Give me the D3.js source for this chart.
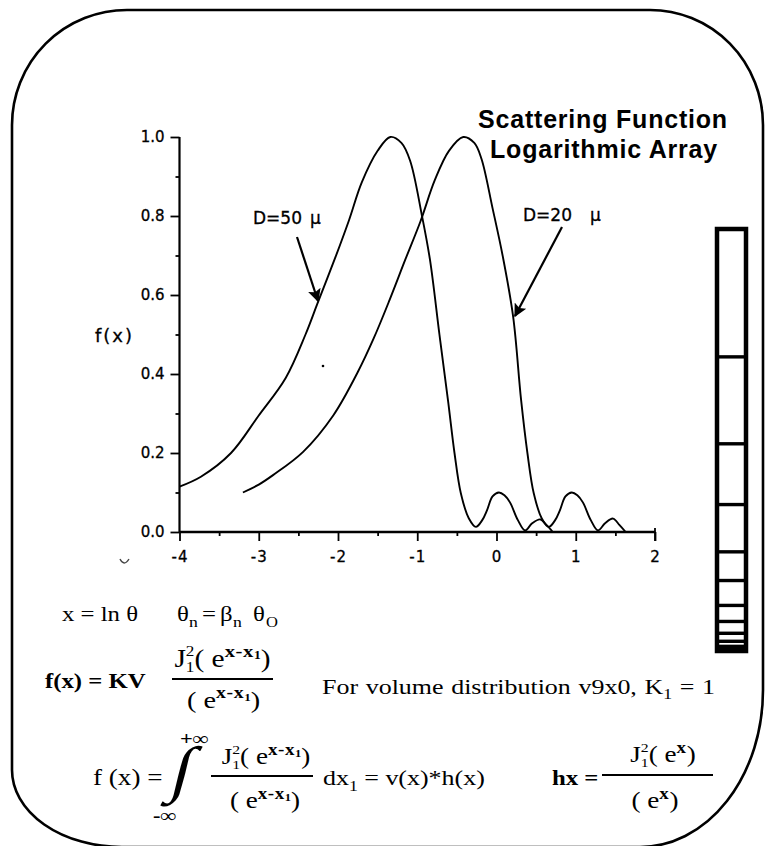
<!DOCTYPE html>
<html>
<head>
<meta charset="utf-8">
<script src="https://cdn.jsdelivr.net/npm/d3@7"></script>
<style>
  html, body { margin: 0; padding: 0; background: #fff; }
  svg { display: block; }
</style>
</head>
<body>
<svg id="chart" width="765" height="846"></svg>
<script>
// ---------------- data ----------------
const xTicks = [-4, -3, -2, -1, 0, 1, 2];
const xTickLabels = ["-4", "-3", "-2", "-1", "0", "1", "2"];
const xMinorTicks = [-3.5, -2.5, -1.5, -0.5, 0.5, 1.5];
const yTicks = [0, 0.2, 0.4, 0.6, 0.8, 1.0];
const yTickLabels = ["0.0", "0.2", "0.4", "0.6", "0.8", "1.0"];
const yMinorTicks = [0.1, 0.3, 0.5, 0.7, 0.9];

// D = 50 micron curve
const d50X = [-4.0, -3.73, -3.35, -3.0, -2.66, -2.41, -2.26, -2.03, -1.86, -1.70, -1.50, -1.34, -1.20, -1.09, -0.94, -0.84, -0.72, -0.61, -0.53, -0.45, -0.35, -0.26, -0.18, -0.12, -0.05, 0.03, 0.10, 0.17, 0.27, 0.36, 0.45, 0.55, 0.63, 0.71];
const d50Y = [0.115, 0.14, 0.20, 0.295, 0.39, 0.50, 0.578, 0.697, 0.79, 0.885, 0.965, 1.0, 0.985, 0.94, 0.80, 0.69, 0.50, 0.33, 0.20, 0.098, 0.035, 0.013, 0.03, 0.055, 0.09, 0.10, 0.093, 0.075, 0.03, 0.004, 0.022, 0.032, 0.018, 0.0];

// D = 20 micron curve
const d20X = [-3.2, -3.0, -2.82, -2.44, -2.06, -1.75, -1.55, -1.35, -1.15, -0.96, -0.78, -0.60, -0.42, -0.28, -0.19, -0.05, 0.08, 0.21, 0.31, 0.39, 0.47, 0.57, 0.66, 0.74, 0.80, 0.87, 0.95, 1.02, 1.09, 1.19, 1.28, 1.37, 1.47, 1.55, 1.63];
const d20Y = [0.10, 0.12, 0.144, 0.203, 0.295, 0.405, 0.49, 0.587, 0.69, 0.786, 0.89, 0.965, 1.0, 0.985, 0.945, 0.82, 0.697, 0.545, 0.335, 0.20, 0.098, 0.035, 0.013, 0.03, 0.055, 0.09, 0.10, 0.093, 0.075, 0.03, 0.004, 0.022, 0.034, 0.018, 0.0];

const curveLabels = ["D=50", "D=20"];
const titleLines = ["Scattering Function", "Logarithmic Array"];

// ring boundaries of the logarithmic detector array (fraction of array length from top)
const ringEdges = [0.303, 0.509, 0.653, 0.765, 0.833, 0.892, 0.930, 0.958, 0.977];

// ---------------- drawing ----------------
const svg = d3.select("#chart");
const ink = "#000";

// rounded frame
svg.append("path")
  .attr("d", "M127,10 L650,10 A113,115 0 0 1 763,125 L763,690 A123,157 0 0 1 640,847 L122,847 A110,77 0 0 1 12,770 L12,125 A115,115 0 0 1 127,10 Z")
  .attr("fill", "none").attr("stroke", ink).attr("stroke-width", 2.6);

const x = d3.scaleLinear().domain([-4, 2]).range([179.5, 655]);
const y = d3.scaleLinear().domain([0, 1]).range([532, 137]);

const tickFont = "'DejaVu Sans', Verdana, sans-serif";

// y axis
const gy = svg.append("g").attr("transform", `translate(${x(-4)},0)`);
gy.call(d3.axisLeft(y).tickValues(yTicks)
  .tickFormat((d, i) => yTickLabels[i]).tickSize(9).tickPadding(6).tickSizeOuter(0));
gy.call(g => g.select(".domain").remove());
gy.selectAll("line").attr("stroke-width", 1.8);
gy.selectAll("text").attr("font-family", tickFont).attr("font-size", 15).attr("fill", ink)
  .attr("stroke", ink).attr("stroke-width", 0.3);
const gyMinor = svg.append("g").attr("transform", `translate(${x(-4)},0)`);
gyMinor.call(d3.axisLeft(y).tickValues(yMinorTicks).tickFormat("").tickSize(4).tickSizeOuter(0));
gyMinor.call(g => g.select(".domain").remove());
gyMinor.selectAll("line").attr("stroke-width", 1.8);
svg.append("line").attr("x1", x(-4)).attr("x2", x(-4)).attr("y1", y(1)).attr("y2", y(0))
  .attr("stroke", ink).attr("stroke-width", 2.2);

// x axis
const gx = svg.append("g").attr("transform", `translate(0,${y(0)})`);
gx.call(d3.axisBottom(x).tickValues(xTicks)
  .tickFormat((d, i) => xTickLabels[i]).tickSize(9).tickPadding(10).tickSizeOuter(0));
gx.call(g => g.select(".domain").remove());
gx.selectAll("line").attr("stroke-width", 1.8);
gx.selectAll("text").attr("font-family", tickFont).attr("font-size", 15).attr("fill", ink)
  .attr("letter-spacing", 1).attr("stroke", ink).attr("stroke-width", 0.3);
const gxMinor = svg.append("g").attr("transform", `translate(0,${y(0)})`);
gxMinor.call(d3.axisBottom(x).tickValues(xMinorTicks).tickFormat("").tickSize(4).tickSizeOuter(0));
gxMinor.call(g => g.select(".domain").remove());
gxMinor.selectAll("line").attr("stroke-width", 1.8);
svg.append("line").attr("x1", x(-4)).attr("x2", x(2)).attr("y1", y(0)).attr("y2", y(0))
  .attr("stroke", ink).attr("stroke-width", 2.4);
svg.append("line").attr("x1", x(2)).attr("x2", x(2)).attr("y1", y(0) - 4).attr("y2", y(0) + 9)
  .attr("stroke", ink).attr("stroke-width", 1.8);

// y label
svg.append("text").attr("x", 95).attr("y", 342).text("f(x)")
  .attr("font-family", tickFont).attr("font-size", 18).attr("letter-spacing", 2).attr("fill", ink)
  .attr("stroke", ink).attr("stroke-width", 0.3);

// curves
const line = d3.line().x(d => x(d[0])).y(d => y(d[1])).curve(d3.curveCatmullRom.alpha(0.5));
[[d50X, d50Y], [d20X, d20Y]].forEach(([xs, ys]) => {
  svg.append("path").datum(xs.map((v, i) => [v, ys[i]]))
    .attr("d", line).attr("fill", "none").attr("stroke", ink).attr("stroke-width", 1.9);
});

// curve labels with arrows
const defs = svg.append("defs");
defs.append("marker").attr("id", "ah").attr("viewBox", "0 0 10 10")
  .attr("refX", 9).attr("refY", 5).attr("markerWidth", 16).attr("markerHeight", 13)
  .attr("markerUnits", "userSpaceOnUse").attr("orient", "auto")
  .append("path").attr("d", "M0,0 L10,5 L0,10 L2,5 Z").attr("fill", ink);

function curveLabel(lx, ly, txt, mux, a) {
  svg.append("text").attr("x", lx).attr("y", ly).text(txt)
    .attr("font-family", tickFont).attr("font-size", 17).attr("fill", ink)
    .attr("stroke", ink).attr("stroke-width", 0.3);
  svg.append("text").attr("x", mux).attr("y", ly).text("μ")
    .attr("font-family", tickFont).attr("font-size", 17).attr("fill", ink)
    .attr("stroke", ink).attr("stroke-width", 0.3);
  svg.append("line").attr("x1", a[0]).attr("y1", a[1]).attr("x2", a[2]).attr("y2", a[3])
    .attr("stroke", ink).attr("stroke-width", 2.2).attr("marker-end", "url(#ah)");
}
curveLabel(253, 224, curveLabels[0], 310, [297, 237, 318, 301]);
curveLabel(523, 221, curveLabels[1], 590, [562, 227, 515, 316]);

// scan specks
svg.append("circle").attr("cx", 323).attr("cy", 366).attr("r", 1.3).attr("fill", ink);
svg.append("path").attr("d", "M120,559 Q124,567 129,559").attr("fill", "none")
  .attr("stroke", "#444").attr("stroke-width", 1.4);

// title
const titleFont = "'Liberation Sans', Arial, Helvetica, sans-serif";
svg.append("text").attr("x", 478).attr("y", 128).text(titleLines[0])
  .attr("font-family", titleFont).attr("font-weight", "bold").attr("font-size", 25)
  .attr("letter-spacing", 0.8).attr("fill", ink);
svg.append("text").attr("x", 490).attr("y", 158).text(titleLines[1])
  .attr("font-family", titleFont).attr("font-weight", "bold").attr("font-size", 25)
  .attr("letter-spacing", 0.8).attr("fill", ink);

// logarithmic ring array bar
const ring = d3.scaleLinear().domain([0, 1]).range([229, 651]);
const barX0 = 717, barX1 = 746;
svg.append("rect").attr("x", barX0).attr("y", ring(0)).attr("width", barX1 - barX0)
  .attr("height", ring(1) - ring(0)).attr("fill", "#fff").attr("stroke", ink).attr("stroke-width", 4.5);
svg.selectAll(".ring").data(ringEdges).enter().append("line")
  .attr("x1", barX0).attr("x2", barX1).attr("y1", d => ring(d)).attr("y2", d => ring(d))
  .attr("stroke", ink).attr("stroke-width", 3.4);
svg.append("rect").attr("x", barX0).attr("y", ring(0.985)).attr("width", barX1 - barX0)
  .attr("height", ring(1) - ring(0.985)).attr("fill", ink);

// ---------------- formulas (horizontally stretched, like the reference) ----------------
const SX = 1.18;
const fg = svg.append("g").attr("transform", `scale(${SX},1)`);
const serif = "'Liberation Serif', 'Times New Roman', Times, serif";
function base(px, py, S, anchor, weight) {
  return fg.append("text").attr("x", px / SX).attr("y", py).attr("text-anchor", anchor || "start")
    .attr("font-family", serif).attr("font-size", S).attr("font-weight", weight || "normal")
    .attr("fill", ink);
}
function T(px, py, str, S, weight) { return base(px, py, S, "start", weight).text(str); }
function expo(t, S, e1, e2) {
  t.append("tspan").attr("font-size", 0.7 * S).attr("font-weight", "bold")
    .attr("letter-spacing", 0.5).attr("dy", -0.4 * S).text(e1);
  if (e2) t.append("tspan").attr("font-size", 0.46 * S).attr("font-weight", "bold").attr("dy", 0.1 * S).text(e2);
  t.append("tspan").attr("dy", e2 ? 0.3 * S : 0.4 * S).text(")");
}
// J1^2( e^{e1 e2} )
function jnum(cx, by, S, e1, e2) {
  const t = base(cx, by, S, "middle");
  t.append("tspan").text("J");
  t.append("tspan").attr("font-size", 0.58 * S).attr("dy", -0.42 * S).text("2");
  t.append("tspan").attr("font-size", 0.58 * S).attr("dx", -0.29 * S).attr("dy", 0.62 * S).text("1");
  t.append("tspan").attr("dy", -0.2 * S).text("( e");
  expo(t, S, e1, e2);
}
function eden(cx, by, S, e1, e2) {
  const t = base(cx, by, S, "middle");
  t.append("tspan").text("( e");
  expo(t, S, e1, e2);
}
function bar(x1, x2, yy) {
  svg.append("line").attr("x1", x1).attr("x2", x2).attr("y1", yy).attr("y2", yy)
    .attr("stroke", ink).attr("stroke-width", 1.8);
}

// line 1
T(62, 621, "x = ln θ", 21);
T(177, 621, "θ", 21); T(189, 627, "n", 15);
T(202, 621, "=", 21); T(220, 621, "β", 21); T(233, 627, "n", 15);
T(253, 621, "θ", 21); T(266, 627, "O", 14);

// line 2
T(45, 688, "f(x) = KV", 21, "bold");
jnum(222.5, 667, 25, "x-x", "1");
bar(172, 273, 679);
eden(223.5, 708, 24, "x-x", "1");
const kText = base(322, 694, 22).attr("word-spacing", 1);
kText.append("tspan").text("For volume distribution v9x0, K");
kText.append("tspan").attr("font-size", 15).attr("dy", 5).text("1");
kText.append("tspan").attr("dy", -5).text(" = 1");

// line 3
T(93, 785, "f (x) =", 23);
fg.append("text").attr("transform", `translate(${168 / SX},790) skewX(-12)`)
  .attr("font-family", serif).attr("font-size", 62).attr("font-weight", "bold")
  .attr("fill", ink).text("∫");
T(180, 745, "+∞", 19, "bold");
T(153, 822, "-∞", 19, "bold");
jnum(266, 764, 23, "x-x", "1");
bar(211, 313, 776);
eden(265, 808, 23, "x-x", "1");
const dx = base(323, 785, 22);
dx.append("tspan").text("dx");
dx.append("tspan").attr("font-size", 15).attr("dy", 6).text("1");
dx.append("tspan").attr("dy", -6).text(" = v(x)*h(x)");

T(552, 785, "hx =", 21, "bold");
jnum(663, 762, 23, "x", null);
bar(602, 713, 775);
eden(655, 808, 23, "x", null);
</script>
</body>
</html>
